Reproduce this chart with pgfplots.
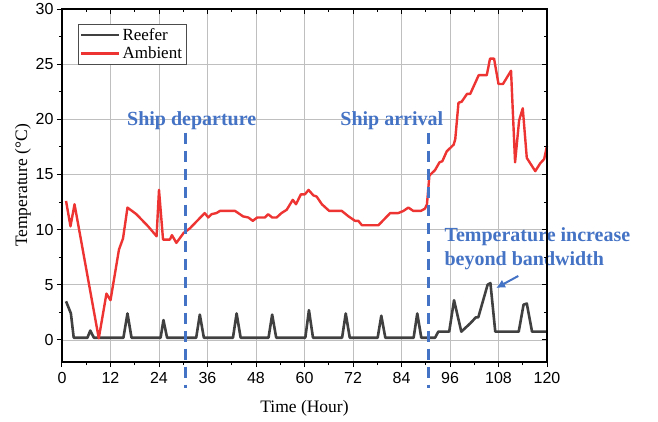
\documentclass[border=0pt]{standalone}
\usepackage{pgfplots}
\pgfplotsset{compat=1.18}
\usepackage{fontspec}
\setmainfont{Liberation Serif}
\setsansfont{Liberation Sans}
\usetikzlibrary{arrows.meta}
\definecolor{reefer}{HTML}{404040}
\definecolor{ambient}{HTML}{EE3333}
\definecolor{annot}{HTML}{4472C4}

\pgfplotstableread{
x y
1 3.5
2.2 2.4
2.9 0.2
6.3 0.2
7 0.85
7.9 0.2
15.2 0.2
16.2 2.4
17.2 0.2
24.4 0.2
25.1 1.8
26 0.2
33.2 0.2
34.1 2.3
35.1 0.2
42.3 0.2
43.2 2.4
44.2 0.2
51.1 0.2
52 2.3
53 0.2
60.2 0.2
61.1 2.7
62.1 0.2
69.3 0.2
70.2 2.4
71.2 0.2
78.1 0.2
79 2.2
80 0.2
87 0.2
87.9 2.4
88.9 0.2
92.3 0.2
93.1 0.75
95.8 0.75
97 3.6
98.8 0.75
101 1.5
102.4 2.05
103 2.05
105.3 5.0
106 5.15
107.2 0.75
113 0.75
114.2 3.2
115 3.3
116.3 0.75
120 0.75
}\reefertab

\pgfplotstableread{
x y
1 12.6
2.1 10.3
3.1 12.3
9.1 0.15
11 4.2
12 3.6
14.1 8.2
15.1 9.2
16.2 12.0
18.4 11.4
21.3 10.3
23.4 9.4
24 13.6
25 9.1
26.7 9.1
27.2 9.5
28.3 8.8
30.1 9.7
31.6 10.1
35.3 11.5
36.2 11.1
37 11.4
38.2 11.5
39.1 11.7
42.8 11.7
44.8 11.2
46.1 11.1
47.2 10.8
48.3 11.1
50.2 11.1
51 11.4
52 11.1
53.1 11.1
54.3 11.5
55.6 11.8
57.1 12.7
57.9 12.3
59.1 13.2
60.1 13.2
61 13.6
62.2 13.1
63 13.0
64.3 12.3
66.1 11.7
69.2 11.7
70.9 11.2
72.5 10.8
73.3 10.8
74.2 10.4
78.3 10.4
81.2 11.5
83.2 11.5
84.5 11.7
85.7 12.0
86.9 11.7
88.8 11.7
89.8 11.9
90.3 12.3
90.9 14.9
92.3 15.4
93.4 16.1
94.1 16.2
95.2 17.1
96.9 17.7
97.3 18.2
98.1 21.5
98.9 21.6
100.2 22.3
101 22.3
103.1 24.0
105.1 24.0
105.9 25.5
106.9 25.5
108 23.2
109.1 23.2
111.1 24.4
112.1 16.1
113.1 19.9
114 21.0
115 16.5
117.1 15.3
118.3 16.0
119.3 16.4
120 17.6
}\ambienttab

\begin{document}
\begin{tikzpicture}
\pgfplotsset{
  common/.style={
    scale only axis, width=485pt, height=353pt,
    xmin=0, xmax=120, ymin=-2, ymax=30,
    xtick={0,12,...,120}, ytick={0,5,...,30},
    minor x tick num=1, minor y tick num=1,
    major tick length=5pt, minor tick length=3pt,
    axis line style={line width=1.2pt},
    every tick/.style={black, line width=1pt},
  }
}
\begin{axis}[
  common,
  tick align=outside,
  xtick pos=left, ytick pos=left,
  grid=major,
  major grid style={black!25, line width=0.8pt},
  clip=false,
  tick label style={font=\sffamily\fontsize{16}{16}\selectfont},
  xticklabel style={yshift=-2pt},
  /pgf/number format/assume math mode=true,
  xlabel={Time (Hour)},
  ylabel={Temperature (°C)},
  label style={font=\fontsize{17.5}{20}\selectfont},
  xlabel style={yshift=-10pt},
  ylabel style={yshift=-2pt},
  legend style={at={(rel axis cs:0.032,0.958)}, anchor=north west,
    draw=black!70, line width=0.8pt, font=\fontsize{17}{19}\selectfont,
    inner xsep=2pt, inner ysep=2pt, row sep=1pt},
  legend cell align=left,
  legend image code/.code={\draw[#1] (0pt,0pt) -- (38pt,0pt);},
]
\addplot[reefer, line width=2.6pt, line join=round] table[x=x,y=y] {\reefertab};
\addplot[ambient, line width=2.4pt, line join=round] table[x=x,y=y] {\ambienttab};
\legend{Reefer,Ambient}

\addplot[annot, line width=3.5pt, dash pattern=on 11pt off 7pt, forget plot] coordinates {(30.5,18.8) (30.5,-4.4)};
\addplot[annot, line width=3.5pt, dash pattern=on 11pt off 7pt, forget plot] coordinates {(90.7,18.8) (90.7,-4.4)};

\node[text=annot, font=\bfseries\fontsize{20}{22}\selectfont] at (axis cs:32.1,19.9) {Ship departure};
\node[text=annot, font=\bfseries\fontsize{20}{22}\selectfont] at (axis cs:81.6,19.9) {Ship arrival};
\node[text=annot, font=\bfseries\fontsize{20}{24}\selectfont, anchor=west, align=left, inner sep=0pt]
  at (axis cs:94.6,8.3) {Temperature increase\\beyond bandwidth};
\draw[annot, line width=2pt, -{Latex[length=9pt,width=9pt]}] (axis cs:112.9,5.8) -- (axis cs:107.4,4.7);
\end{axis}
\begin{axis}[
  common,
  tick align=inside,
  xtick pos=right, ytick pos=right,
  xticklabels={}, yticklabels={},
]
\end{axis}
\path (current axis.south west) ++(-62pt,-59pt);
\path (current axis.north east) ++(111pt,9pt);
\end{tikzpicture}
\end{document}
